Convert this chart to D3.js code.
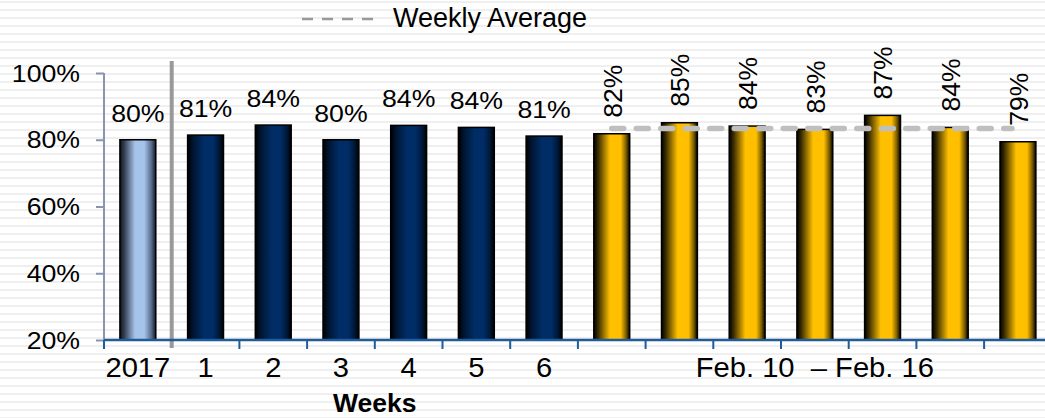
<!DOCTYPE html>
<html><head><meta charset="utf-8">
<script src="https://cdn.jsdelivr.net/npm/d3@7"></script>
<style>html,body{margin:0;padding:0;background:#fff;overflow:hidden}</style>
</head><body>
<svg id="c" width="1045" height="418"></svg>
<script>
const categories = ["2017","1","2","3","4","5","6","d1","d2","d3","d4","d5","d6","d7"];
const groups = ["year","week","week","week","week","week","week","day","day","day","day","day","day","day"];
const values = [80, 81.4, 84.4, 80, 84.3, 83.7, 81.1, 81.8, 85.1, 84.1, 83.1, 87.3, 83.7, 79.4];
const valueLabels = ["80%","81%","84%","80%","84%","84%","81%","82%","85%","84%","83%","87%","84%","79%"];
const tickLabels = ["2017","1","2","3","4","5","6","","","","Feb. 10  \u2013 Feb. 16","","",""];
const yTicks = [20, 40, 60, 80, 100];
const weeklyAverage = 83.4;
const legendLabel = "Weekly Average";
const axisTitle = "Weeks";

const font = "'Liberation Sans', Arial, sans-serif";
const sx = 1.08; // horizontal stretch of text seen in the reference
const svg = d3.select("#c");
const defs = svg.append("defs");

// striped background
const pat = defs.append("pattern").attr("id","stripes").attr("patternUnits","userSpaceOnUse")
  .attr("width",8).attr("height",8);
pat.append("rect").attr("x",0).attr("y",1).attr("width",8).attr("height",2).attr("fill","#efefef");
svg.append("rect").attr("width",1045).attr("height",418).attr("fill","url(#stripes)");

function grad(id, stops){
  const g = defs.append("linearGradient").attr("id",id).attr("x1","0%").attr("x2","100%").attr("y1","0%").attr("y2","0%");
  stops.forEach(s=>g.append("stop").attr("offset",s[0]).attr("stop-color",s[1]));
}
grad("g-year",[["0%","#101318"],["14%","#3a465a"],["42%","#a6c3ea"],["68%","#a6c3ea"],["88%","#56698a"],["100%","#141820"]]);
grad("g-week",[["0%","#000000"],["15%","#001530"],["45%","#002d66"],["70%","#002d66"],["88%","#001838"],["100%","#000000"]]);
grad("g-day",[["0%","#000000"],["12%","#3a2c00"],["45%","#ffc000"],["75%","#ffbf00"],["90%","#7a5c00"],["100%","#000000"]]);

function label(px, py, txt, size, anchor, opts){
  opts = opts || {};
  const g = svg.append("g").attr("transform",`translate(${px},${py}) scale(${opts.sx||1},1)`);
  const t = g.append("text").attr("text-anchor",anchor).attr("font-family",font)
    .attr("font-size",size).attr("fill","#000").style("white-space","pre").text(txt);
  if(opts.bold) t.attr("font-weight","bold");
  if(opts.dy) t.attr("dy",opts.dy);
  return t;
}

const left = 104, step = 67.7;
const x = d3.scaleBand().domain(categories).range([left, left + step*categories.length])
  .paddingInner(0.47).paddingOuter(0.235);
const y = d3.scaleLinear().domain([20,100]).range([340,73]);
const outer = (x.step()-x.bandwidth())/2;

// y axis
const yAxis = svg.append("g").attr("transform",`translate(${left},0)`)
  .call(d3.axisLeft(y).tickValues(yTicks).tickFormat("").tickSize(8));
yAxis.select(".domain").attr("stroke","#8a94b0").attr("stroke-width",2).attr("d",`M0,${y(100)}V${y(20)+8}`);
yAxis.selectAll(".tick line").attr("stroke","#8a94b0").attr("stroke-width",2);
yTicks.forEach(v=>label(80, y(v), v+"%", 24.7, "end", {sx:sx, dy:"0.35em"}));

// separator
svg.append("line").attr("x1",x("1")-outer).attr("x2",x("1")-outer).attr("y1",61).attr("y2",y(20)+8)
  .attr("stroke","#999").attr("stroke-width",4);

// bars
svg.selectAll("rect.bar").data(categories).join("rect").attr("class","bar")
  .attr("x",d=>x(d)).attr("width",x.bandwidth())
  .attr("y",(d,i)=>y(values[i])).attr("height",(d,i)=>y(20)-y(values[i]))
  .attr("fill",(d,i)=>`url(#g-${groups[i]})`).attr("stroke","#000").attr("stroke-width",1.5);

// x axis line + ticks
svg.append("line").attr("x1",left).attr("x2",1045).attr("y1",y(20)).attr("y2",y(20))
  .attr("stroke","#1f5c99").attr("stroke-width",2.5);
svg.selectAll("line.xt").data(categories.filter((d,i)=>i!==1)).join("line").attr("class","xt")
  .attr("x1",d=>x(d)-outer).attr("x2",d=>x(d)-outer).attr("y1",y(20)).attr("y2",y(20)+9)
  .attr("stroke","#1f5c99").attr("stroke-width",2);

// x tick labels
categories.forEach((d,i)=>{
  if(tickLabels[i]) label(x(d)+x.bandwidth()/2, 377, tickLabels[i], 27, "middle", {sx:sx});
});

// axis title
label((x("1")-outer + x("6")+x.bandwidth()+outer)/2, 412, axisTitle, 26.5, "middle", {bold:true});

// average line
const dayCats = categories.filter((d,i)=>groups[i]==="day");
svg.append("line")
  .attr("x1",x(dayCats[0])+x.bandwidth()/2).attr("x2",x(dayCats[dayCats.length-1])+x.bandwidth()/2-6)
  .attr("y1",y(weeklyAverage)).attr("y2",y(weeklyAverage))
  .attr("stroke","#bfbfbf").attr("stroke-width",5.5).attr("stroke-linecap","round").attr("stroke-dasharray","12,12.5");

// value labels
categories.forEach((d,i)=>{
  const cx = x(d)+x.bandwidth()/2, top = y(values[i]);
  if(groups[i]==="day"){
    svg.append("text").attr("transform",`translate(${cx+9.8},${top-16}) rotate(-90)`)
      .attr("font-family",font).attr("font-size",26.5).attr("fill","#000").text(valueLabels[i]);
  } else {
    label(cx, top-18, valueLabels[i], 24.7, "middle", {sx:sx});
  }
});

// legend
svg.append("line").attr("x1",302).attr("x2",373).attr("y1",19).attr("y2",19)
  .attr("stroke","#999").attr("stroke-width",2.5).attr("stroke-dasharray","11,9");
label(393, 27, legendLabel, 27, "start");
</script>
</body></html>
